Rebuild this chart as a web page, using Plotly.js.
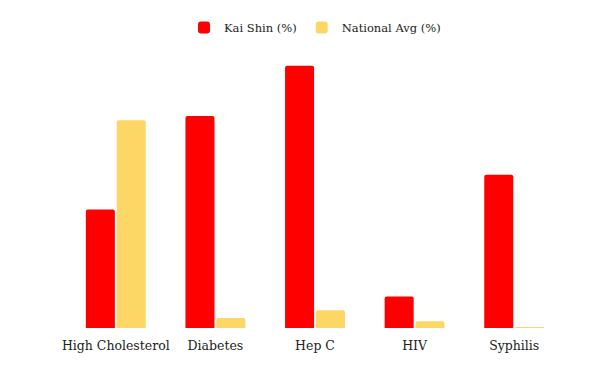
<!DOCTYPE html>
<html>
<head>
<meta charset="utf-8">
<script src="https://cdn.plot.ly/plotly-3.0.1.min.js"></script>
<style>html,body{margin:0;padding:0;background:#fff;}#chart{width:600px;height:371px;}</style>
</head>
<body>
<div id="chart"></div>
<script>
const categories = ["High Cholesterol", "Diabetes", "Hep C", "HIV", "Syphilis"];
const kaiShin = [11.3, 20.2, 25.0, 3.0, 14.6];
const nationalAvg = [19.8, 0.95, 1.7, 0.65, 0.1];
const seriesNames = ["Kai Shin (%)", "National Avg (%)"];

const data = [
  {type: "bar", x: categories, y: kaiShin, name: seriesNames[0],
   marker: {color: "#ff0000", cornerradius: 2}, hoverinfo: "none"},
  {type: "bar", x: categories, y: nationalAvg, name: seriesNames[1],
   marker: {color: "#fdd766", cornerradius: 2}, hoverinfo: "none"}
];

const layout = {
  width: 600, height: 371,
  margin: {l: 66, r: 36, t: 50, b: 43},
  font: {family: "DejaVu Serif, serif", size: 12, color: "#222"},
  paper_bgcolor: "#fff", plot_bgcolor: "#fff",
  barmode: "group", bargap: 0.38, bargroupgap: 0.06,
  showlegend: true,
  legend: {orientation: "h", x: 0.5, xanchor: "center", y: 0.965, yanchor: "top",
           yref: "container", font: {family: "DejaVu Serif, serif", size: 11.5, color: "#222"}},
  xaxis: {showgrid: false, zeroline: false, showline: false, ticks: "",
          ticklabelstandoff: 8,
          tickfont: {family: "DejaVu Serif, serif", size: 12.5, color: "#222"}},
  yaxis: {visible: false, range: [0, 26.5], showgrid: false, zeroline: false}
};

Plotly.newPlot("chart", data, layout, {displayModeBar: false, staticPlot: true});
</script>
</body>
</html>
